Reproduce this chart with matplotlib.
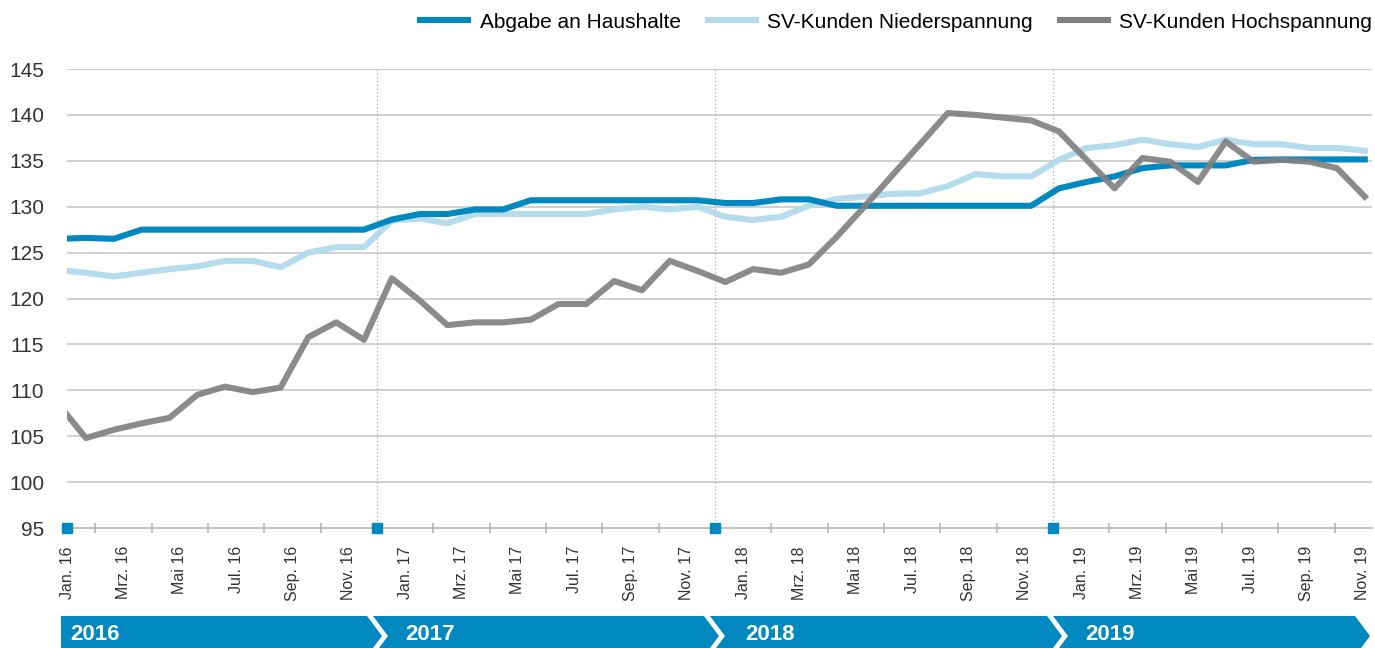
import numpy as np
import matplotlib.pyplot as plt
from matplotlib.patches import Polygon
from matplotlib.lines import Line2D

plt.rcParams['font.family'] = ['Liberation Sans', 'DejaVu Sans']

# Index values, monthly, Dez. 15 .. Nov. 19 (48 points)
abgabe = [126.5, 126.6, 126.5,
          127.5, 127.5, 127.5, 127.5, 127.5, 127.5, 127.5, 127.5, 127.5,
          128.6, 129.2, 129.2, 129.7, 129.7,
          130.7, 130.7, 130.7, 130.7, 130.7, 130.7, 130.7,
          130.4, 130.4, 130.8, 130.8,
          130.1, 130.1, 130.1, 130.1, 130.1, 130.1, 130.1, 130.1,
          132.0, 132.7, 133.3, 134.2, 134.5, 134.5, 134.5,
          135.1, 135.15, 135.15, 135.15, 135.15]
nieder = [123.1, 122.8, 122.4, 122.8, 123.2, 123.5, 124.1, 124.1, 123.4, 125.0, 125.6, 125.6,
          128.5, 128.7, 128.2, 129.2, 129.2, 129.2, 129.2, 129.2, 129.7, 130.0, 129.7, 130.0,
          128.9, 128.55, 128.9, 130.1, 130.85, 131.1, 131.4, 131.45, 132.25, 133.55, 133.3, 133.3,
          135.1, 136.4, 136.7, 137.3, 136.8, 136.5, 137.3, 136.8, 136.8, 136.4, 136.4, 136.1]
hoch = [108.5, 104.8, 105.7, 106.4, 107.0, 109.5, 110.4, 109.8, 110.3, 115.8, 117.4, 115.5,
        122.2, 119.8, 117.1, 117.4, 117.4, 117.7, 119.4, 119.4, 121.9, 120.9, 124.1, 123.0,
        121.8, 123.2, 122.8, 123.7, 126.7, 130.0, 133.4, 136.8, 140.2, 140.0, 139.7, 139.4,
        138.2, 135.1, 132.0, 135.3, 134.9, 132.7, 137.1, 134.9, 135.1, 134.9, 134.2, 131.1]

months = ['Jan.', 'Mrz.', 'Mai', 'Jul.', 'Sep.', 'Nov.']
years = ['2016', '2017', '2018', '2019']
month_labels = [f'{m} {y[2:]}' for y in years for m in months]
series_names = ['Abgabe an Haushalte', 'SV-Kunden Niederspannung', 'SV-Kunden Hochspannung']

BLUE = '#0089c1'
LIGHT = '#b4dcec'
GREY = '#7f7f7f'
W, H = 1375, 648

fig = plt.figure(figsize=(W / 100, H / 100), dpi=100)
ax = fig.add_axes([67 / W, 1 - 528 / H, (1372 - 67) / W, (528 - 69) / H])

# data points sit slightly off the label grid in the original
x_data = -0.312 + 0.9869 * np.arange(len(hoch))

ax.plot(x_data, abgabe, color=BLUE, lw=4.4, solid_joinstyle='round', zorder=4)
ax.plot(x_data, nieder, color=LIGHT, lw=4.4, solid_joinstyle='round', zorder=3)
ax.plot(x_data, hoch, color=GREY, lw=4.4, alpha=0.9, solid_joinstyle='round', zorder=5)

ax.set_xlim(0, 46.33)
ax.set_ylim(95, 145)
ax.set_yticks(range(95, 150, 5))
for v in range(100, 150, 5):
    ax.axhline(v, color='#c4c4c4', lw=1.1, zorder=1)

for s in ['top', 'right', 'left']:
    ax.spines[s].set_visible(False)
ax.spines['bottom'].set_color('#b0b0b0')
ax.spines['bottom'].set_linewidth(1.1)

ax.tick_params(axis='y', length=0, pad=16.5, labelsize=15, labelcolor='#333333')
ax.set_xticks(range(0, 47, 2))
ax.set_xticklabels(month_labels, rotation=90, fontsize=11.5, color='#333333')
ax.set_xticks([m for m in range(1, 47, 2) if m not in (11, 23, 35)], minor=True)
ax.tick_params(axis='x', which='major', length=0, pad=13)
ax.tick_params(axis='x', which='minor', direction='inout', length=7, color='#b0b0b0', width=1.1)

# year separators
for m in (11, 23, 35):
    ax.axvline(m, color='#a8a8a8', lw=0.9, ls=(0, (1, 2)), zorder=1)
ax.plot([0, 11, 23, 35], [95] * 4, ls='none', marker='s', ms=7.5, color=BLUE,
        clip_on=False, zorder=6)

handles = [Line2D([], [], color=c, lw=4.4) for c in (BLUE, LIGHT, GREY)]
fig.legend(handles, series_names, loc='center right', bbox_to_anchor=(1372 / W, 1 - 22 / H),
           ncol=3, frameon=False, fontsize=15, handlelength=2.3, handletextpad=0.55,
           columnspacing=1.3, borderaxespad=0, borderpad=0)

# year banner at the bottom
def px(x, y):
    return (x / W, 1 - y / H)

top, mid, bot, tip = 616, 636, 656, 15
bounds = [(61, 367), (373, 704), (710, 1047), (1053, 1355)]
label_x = [70, 405, 745, 1085]
for i, (x0, x1) in enumerate(bounds):
    pts = [px(x0, top), px(x1, top), px(x1 + tip, mid), px(x1, bot), px(x0, bot)]
    if i > 0:
        pts.append(px(x0 + tip, mid))
    fig.add_artist(Polygon(pts, closed=True, facecolor=BLUE, edgecolor='none',
                           transform=fig.transFigure))
    fig.text(*px(label_x[i], 634), years[i], color='white', fontsize=16,
             fontweight='bold', va='center', ha='left')

fig.savefig('out.png', dpi=100)
